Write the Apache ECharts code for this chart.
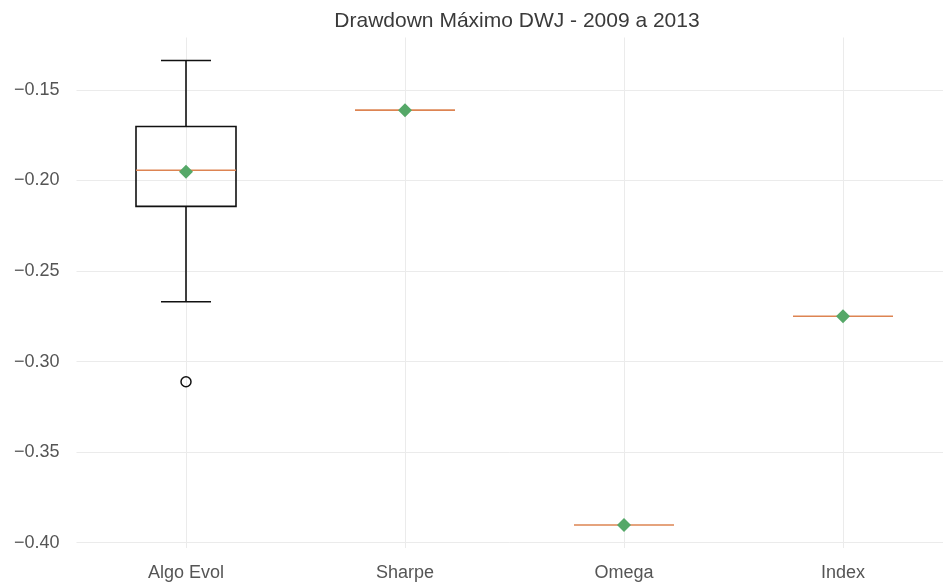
<!DOCTYPE html>
<html>
<head>
<meta charset="utf-8">
<script src="https://cdn.jsdelivr.net/npm/echarts@6/dist/echarts.min.js"></script>
<style>
html,body{margin:0;padding:0;background:#fff;}
#chart{width:943px;height:585px;}
</style>
</head>
<body>
<div id="chart"></div>
<script>
const titleText = 'Drawdown Máximo DWJ - 2009 a 2013';
const categories = ['Algo Evol', 'Sharpe', 'Omega', 'Index'];
const whiskerLow = [-0.2670, -0.1612, -0.3902, -0.2750];
const q1 = [-0.2143, -0.1612, -0.3902, -0.2750];
const medians = [-0.1944, -0.1612, -0.3902, -0.2750];
const q3 = [-0.1702, -0.1612, -0.3902, -0.2750];
const whiskerHigh = [-0.1338, -0.1612, -0.3902, -0.2750];
const means = [-0.1952, -0.1612, -0.3902, -0.2750];
const outlierCat = [0];
const outlierVal = [-0.3111];
const yMin = -0.4029, yMax = -0.1211;
// visible x range in category-index units (the right edge of the original plot is cropped)
const xMin = -0.5, xMax = 3.4566;

const boxData = categories.map((c, i) => [i, whiskerLow[i], q1[i], medians[i], q3[i], whiskerHigh[i]]);
const meanData = categories.map((c, i) => [i, means[i]]);
const outlierData = outlierCat.map((c, i) => [c, outlierVal[i]]);

const BOX_W = 100, CAP_W = 50;
const boxStroke = { stroke: '#111', lineWidth: 1.6, fill: null };

function renderBox(params, api) {
  const x = api.value(0);
  const pLow = api.coord([x, api.value(1)]);
  const pQ1 = api.coord([x, api.value(2)]);
  const pMed = api.coord([x, api.value(3)]);
  const pQ3 = api.coord([x, api.value(4)]);
  const pHigh = api.coord([x, api.value(5)]);
  const cx = pMed[0];
  const h = BOX_W / 2, c = CAP_W / 2;
  const children = [];
  if (Math.abs(pHigh[1] - pLow[1]) > 0.5) {
    children.push(
      { type: 'line', shape: { x1: cx, y1: pQ1[1], x2: cx, y2: pLow[1] }, style: boxStroke },
      { type: 'line', shape: { x1: cx, y1: pQ3[1], x2: cx, y2: pHigh[1] }, style: boxStroke },
      { type: 'line', shape: { x1: cx - c, y1: pLow[1], x2: cx + c, y2: pLow[1] }, style: boxStroke },
      { type: 'line', shape: { x1: cx - c, y1: pHigh[1], x2: cx + c, y2: pHigh[1] }, style: boxStroke },
      { type: 'rect', shape: { x: cx - h, y: pQ3[1], width: BOX_W, height: pQ1[1] - pQ3[1] }, style: boxStroke }
    );
  }
  children.push({ type: 'line', shape: { x1: cx - h, y1: pMed[1], x2: cx + h, y2: pMed[1] }, style: { stroke: '#dd8452', lineWidth: 1.6 } });
  return { type: 'group', children: children };
}

const chart = echarts.init(document.getElementById('chart'), null, { renderer: 'canvas' });
chart.setOption({
  animation: false,
  backgroundColor: '#ffffff',
  title: {
    text: titleText,
    left: 512,
    top: 6,
    textAlign: 'center',
    textStyle: { fontFamily: 'Liberation Sans', fontSize: 21, fontWeight: 'normal', color: '#3a3a3a' }
  },
  grid: { left: 76.5, right: 0, top: 37.5, bottom: 37, containLabel: false },
  xAxis: {
    type: 'value',
    min: xMin,
    max: xMax,
    splitNumber: 4,
    axisLine: { show: false },
    axisTick: { show: false },
    axisLabel: {
      fontFamily: 'Liberation Sans', fontSize: 18, color: '#555', margin: 16,
      showMinLabel: false, showMaxLabel: false,
      formatter: v => (Number.isInteger(v) && categories[v] !== undefined) ? categories[v] : ''
    },
    splitLine: { show: true, showMinLine: false, showMaxLine: false, lineStyle: { color: '#ebebeb', width: 1 } }
  },
  yAxis: {
    type: 'value',
    min: yMin,
    max: yMax,
    splitNumber: 5,
    axisLine: { show: false },
    axisTick: { show: false },
    axisLabel: {
      fontFamily: 'Liberation Sans', fontSize: 18, color: '#555', margin: 17,
      showMinLabel: false, showMaxLabel: false,
      formatter: v => v.toFixed(2).replace('-', '\u2212')
    },
    splitLine: { show: true, showMinLine: false, showMaxLine: false, lineStyle: { color: '#ebebeb', width: 1 } }
  },
  series: [
    {
      type: 'custom',
      renderItem: renderBox,
      encode: { x: 0, y: [1, 2, 3, 4, 5] },
      data: boxData,
      z: 2
    },
    {
      type: 'scatter',
      data: meanData,
      symbol: 'diamond',
      symbolSize: 14,
      itemStyle: { color: '#55a868', opacity: 1 },
      z: 4
    },
    {
      type: 'scatter',
      data: outlierData,
      symbol: 'circle',
      symbolSize: 10,
      itemStyle: { color: 'rgba(0,0,0,0)', borderColor: '#111', borderWidth: 1.5, opacity: 1 },
      z: 3
    }
  ]
});
</script>
</body>
</html>
